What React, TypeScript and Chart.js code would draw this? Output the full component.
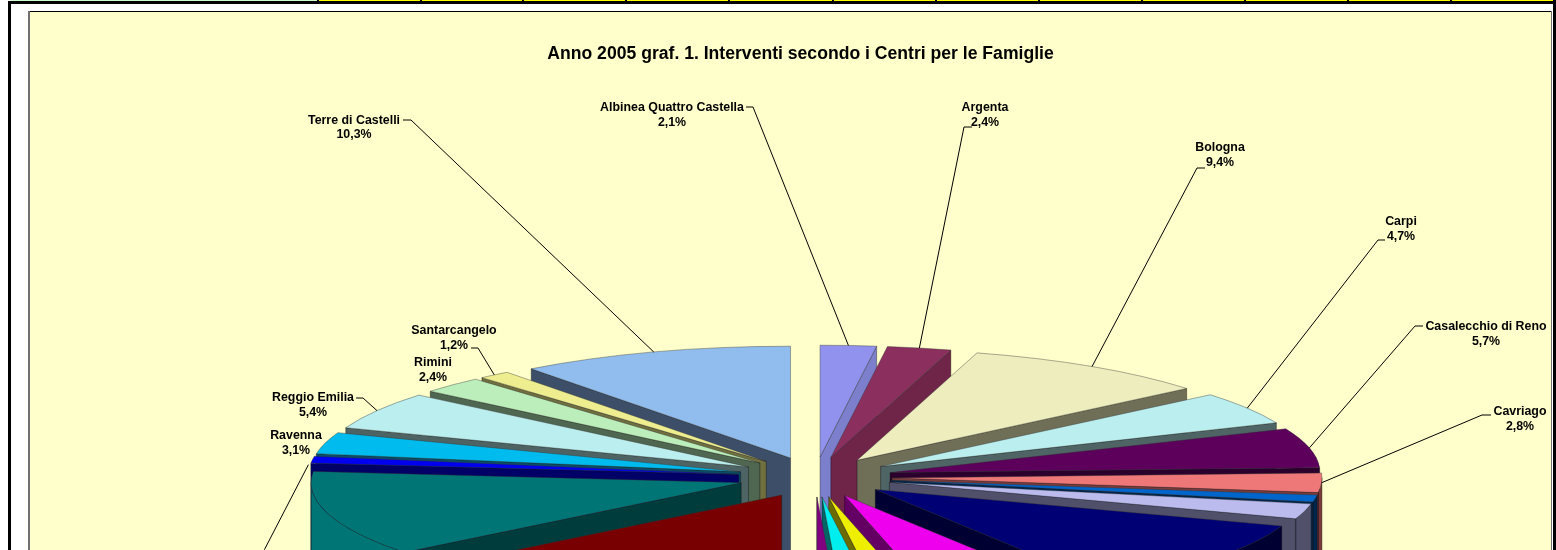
import React, { useEffect, useRef } from "react";
import { Chart, registerables } from "chart.js";

Chart.register(...registerables);

const TITLE = "Anno 2005 graf. 1. Interventi secondo i Centri per le Famiglie";

// Clockwise from 12 o'clock. Names of the slices whose labels fall below the crop are unknown.
const categories = [
  "Albinea Quattro Castella", "Argenta", "Bologna", "Carpi", "Casalecchio di Reno", "Cavriago",
  "", "", "", "", "", "", "", "", "", "",
  "Ravenna", "Reggio Emilia", "Rimini", "Santarcangelo", "Terre di Castelli",
];
const shares = [
  2.1, 2.4, 9.4, 4.7, 5.7, 2.8,
  1.0, 2.2, 10.75, 5.35, 1.5, 1.3, 0.8, 14.3, 12.3, 1.0,
  3.1, 5.4, 2.4, 1.2, 10.3,
];
const faceColors = [
  "#9191EE", "#8B2F5F", "#EDEDBE", "#BBEEEE", "#5C005C", "#EE7777",
  "#0066CC", "#BBBBEE", "#000075", "#EE00EE", "#EEEE00", "#00EEEE", "#800080", "#790000", "#007575", "#0000EE",
  "#00BBEE", "#BBEEEE", "#BBEEBB", "#EEEE90", "#90BCEE",
];
const wallColors = [
  "#7C7FCC", "#6E2548", "#6F6F58", "#4F6565", "#2C002C", "#7A3B3B",
  "#00264D", "#50506A", "#000033", "#640064", "#6B6B00", "#006666", "#500050", "#3C0000", "#003C3C", "#000066",
  "#0A4C66", "#4E6464", "#4F6650", "#6F6F40", "#3C4E68",
];

const TILT = 0.26;
const EXPLODE = 77;
const DEPTH = 220;
const RADIUS = 430;

// Label placement: [index, centre x, first-line y, leader start x, leader y, elbow x]
const callouts: [number, number, number, number, number, number][] = [
  [0, 672, 108, 746, 107, 753],
  [1, 985, 108, 972, 127, 964],
  [2, 1220, 148, 1205, 168, 1197],
  [3, 1401, 222, 1385, 240, 1378],
  [4, 1486, 327, 1423, 326, 1415],
  [5, 1520, 412, 1491, 415, 1482],
  [16, 296, 436, -1, 0, 0],
  [17, 313, 398, 356, 398, 363],
  [18, 433, 363, -1, 0, 0],
  [19, 454, 331, 471, 348, 478],
  [20, 354, 120.5, 403, 120, 411],
];
const topTicks = [317, 420, 522, 625, 728, 832, 935, 1038, 1141, 1244, 1347, 1450];

const pctText = (v: number) => v.toFixed(1).replace(".", ",") + "%";

const pie3d = {
  id: "pie3d",
  beforeDraw(chart: any) {
    const ctx = chart.ctx;
    ctx.save();
    ctx.fillStyle = "#FFFFFF";
    ctx.fillRect(0, 0, 1556, 550);
    ctx.fillStyle = "#FFFF00";
    ctx.fillRect(319, 0, 1234, 1);
    ctx.fillStyle = "#CCFFCC";
    ctx.fillRect(11, 0, 306, 1);
    ctx.fillStyle = "#000000";
    ctx.fillRect(8, 1, 1548, 3);
    ctx.fillRect(8, 1, 3, 549);
    ctx.fillRect(1553, 0, 3, 550);
    topTicks.forEach((x) => ctx.fillRect(x, 0, 2, 2));
    ctx.fillStyle = "#FFFFCC";
    ctx.fillRect(28, 11, 1524, 539);
    ctx.fillStyle = "#000000";
    ctx.fillRect(28, 11, 1524, 1);
    ctx.fillStyle = "#707070";
    ctx.fillRect(28, 11, 2, 539);
    ctx.fillRect(1551, 11, 1, 539);
    ctx.restore();
  },
  beforeDatasetsDraw(chart: any) {
    const ctx = chart.ctx;
    const arcs = chart.getDatasetMeta(0).data;
    const order = arcs
      .map((_: any, i: number) => i)
      .sort((a: number, b: number) => {
        const m = (k: number) => Math.sin((arcs[k].startAngle + arcs[k].endAngle) / 2);
        return m(a) - m(b);
      });
    order.forEach((i: number) => {
      const arc = arcs[i];
      const s = arc.startAngle;
      const e = arc.endAngle;
      const mid = (s + e) / 2;
      const r = arc.outerRadius;
      const ax = arc.x + EXPLODE * Math.cos(mid);
      const ay = arc.y + EXPLODE * TILT * Math.sin(mid);

      // outer wall, only where it faces the viewer
      const a0 = Math.max(s, 0);
      const a1 = Math.min(e, Math.PI);
      if (a1 > a0) {
        ctx.beginPath();
        ctx.ellipse(ax, ay, r, r * TILT, 0, a0, a1);
        ctx.ellipse(ax, ay + DEPTH, r, r * TILT, 0, a1, a0, true);
        ctx.closePath();
        ctx.fillStyle = mid > Math.PI / 2 ? faceColors[i] : wallColors[i];
        ctx.fill();
        ctx.strokeStyle = "rgba(0,0,0,0.45)";
        ctx.lineWidth = 0.8;
        ctx.stroke();
      }
      // cut wall on the lower radial edge
      const right = Math.cos(mid) > 0;
      const edge = right ? e : s;
      const ex = ax + r * Math.cos(edge);
      const ey = ay + r * TILT * Math.sin(edge);
      ctx.beginPath();
      ctx.moveTo(ax, ay);
      ctx.lineTo(ex, ey);
      ctx.lineTo(ex, ey + DEPTH);
      ctx.lineTo(ax, ay + DEPTH);
      ctx.closePath();
      ctx.fillStyle = wallColors[i];
      ctx.fill();
      ctx.strokeStyle = "rgba(0,0,0,0.45)";
      ctx.lineWidth = 0.8;
      ctx.stroke();

      // top face: the library's own arc, squashed and moved out from the centre
      ctx.save();
      ctx.translate(ax, ay);
      ctx.scale(1, TILT);
      ctx.translate(-arc.x, -arc.y);
      arc.draw(ctx);
      ctx.restore();
      ctx.beginPath();
      ctx.moveTo(ax, ay);
      ctx.ellipse(ax, ay, r, r * TILT, 0, s, e);
      ctx.closePath();
      ctx.strokeStyle = "rgba(50,50,50,0.5)";
      ctx.lineWidth = 0.8;
      ctx.stroke();
    });
    return false;
  },
  afterDraw(chart: any) {
    const ctx = chart.ctx;
    const arcs = chart.getDatasetMeta(0).data;
    const anchor = (i: number) => {
      const mid = (arcs[i].startAngle + arcs[i].endAngle) / 2;
      const R = arcs[i].outerRadius + EXPLODE;
      return [arcs[i].x + R * Math.cos(mid), arcs[i].y + R * TILT * Math.sin(mid)];
    };
    ctx.save();
    ctx.fillStyle = "#000000";
    ctx.textAlign = "center";
    ctx.textBaseline = "middle";
    ctx.font = "bold 17.6px 'Liberation Sans'";
    ctx.fillText(TITLE, 800.5, 54);
    ctx.font = "bold 12.4px 'Liberation Sans'";
    ctx.strokeStyle = "#000000";
    ctx.lineWidth = 1;
    callouts.forEach(([i, x, y, lx, ly, ex]) => {
      ctx.fillText(categories[i], x, y);
      ctx.fillText(pctText(shares[i]), x, y + 14.5);
      if (lx >= 0) {
        const [px, py] = anchor(i);
        ctx.beginPath();
        ctx.moveTo(lx, ly);
        ctx.lineTo(ex, ly);
        ctx.lineTo(px, py);
        ctx.stroke();
      }
    });
    // leader of the thin blue slice, whose label lies below the crop
    const [bx, by] = anchor(15);
    ctx.beginPath();
    ctx.moveTo(bx - 4, by + 5);
    ctx.lineTo(bx - 48, by + 90);
    ctx.stroke();
    ctx.restore();
  },
};

export default function App() {
  const ref = useRef<HTMLCanvasElement>(null);
  useEffect(() => {
    const chart = new Chart(ref.current as HTMLCanvasElement, {
      type: "pie",
      data: {
        labels: categories,
        datasets: [
          {
            data: shares,
            backgroundColor: faceColors,
            borderWidth: 0,
            radius: RADIUS,
            clip: false,
          } as any,
        ],
      },
      options: {
        responsive: false,
        animation: false,
        events: [],
        layout: { padding: { left: 74, top: 404, right: 0, bottom: 0 } },
        plugins: { legend: { display: false }, tooltip: { enabled: false }, title: { display: false } },
      },
      plugins: [pie3d],
    } as any);
    return () => chart.destroy();
  }, []);
  return (
    <div style={{ position: "fixed", left: 0, top: 0, width: 1556, height: 550, overflow: "hidden" }}>
      <canvas ref={ref} width={1556} height={550} style={{ display: "block" }} />
    </div>
  );
}
